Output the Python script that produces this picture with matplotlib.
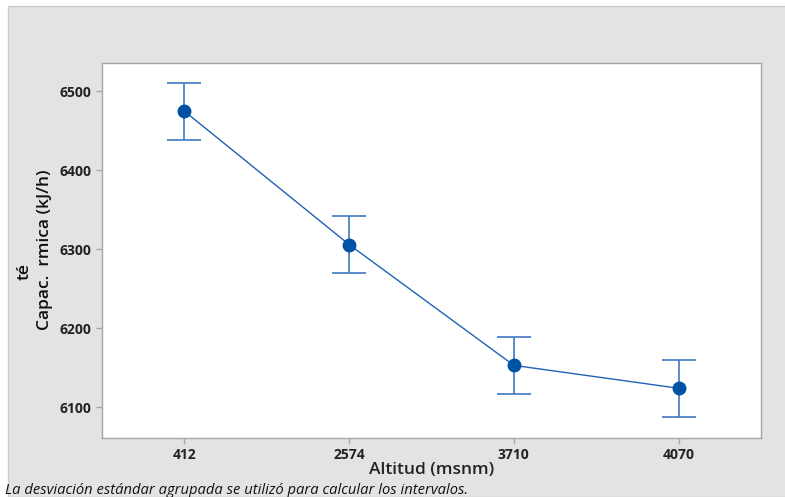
import matplotlib
matplotlib.use("Agg")
import matplotlib.pyplot as plt
from matplotlib.patches import Rectangle

# Altitude groups and mean thermal capacity with interval half-widths
altitudes = ["412", "2574", "3710", "4070"]
capacidad = [6475, 6306, 6153, 6124]
intervalo = [36, 36, 36, 36]
y_ticks = [6100, 6200, 6300, 6400, 6500]

plt.rcParams["font.family"] = ["Open Sans", "DejaVu Sans"]

fig = plt.figure(figsize=(7.85, 4.97), dpi=100)
fig.patch.set_facecolor("white")

# grey panel behind the plot
fig.patches.append(Rectangle((8 / 785, 0), 1, 1 - 6 / 497, transform=fig.transFigure,
                             facecolor="#e3e3e3", edgecolor="#cccccc", linewidth=1.0,
                             zorder=-10))

ax = fig.add_axes([102 / 785, 1 - 438 / 497, 659 / 785, 375 / 497])
ax.set_facecolor("white")

x = list(range(len(altitudes)))
ax.plot(x, capacidad, color="#1f62b5", linewidth=1.0, zorder=2)
ax.errorbar(x, capacidad, yerr=intervalo, fmt="none", ecolor="#3f78c2",
            elinewidth=1.2, capsize=12, capthick=1.2, zorder=3)
ax.plot(x, capacidad, "o", color="#0053a4", markersize=9, zorder=4)

ax.set_xlim(-0.5, 3.5)
ax.set_ylim(6061, 6536)
ax.set_xticks(x)
ax.set_xticklabels(altitudes)
ax.set_yticks(y_ticks)
ax.set_yticklabels([str(v) for v in y_ticks])

for s in ax.spines.values():
    s.set_color("#a6a6a6")
    s.set_linewidth(1.0)

ax.tick_params(axis="both", color="#a6a6a6", length=4, width=1.0,
               labelsize=10, labelcolor="#222222")
ax.tick_params(axis="x", pad=3)
for lbl in ax.get_xticklabels() + ax.get_yticklabels():
    lbl.set_fontweight("bold")

ax.set_xlabel("Altitud (msnm)", fontsize=12.5, fontweight="semibold",
              color="#222222", labelpad=0)

# y-axis title
fig.text(45 / 785, 1 - 250 / 497, "Capac.  rmica (kJ/h)", rotation=90,
         fontsize=12.5, fontweight="semibold", color="#111111",
         ha="center", va="center")
fig.text(25 / 785, 1 - 272 / 497, "té", rotation=90,
         fontsize=12.5, fontweight="semibold", color="#111111",
         ha="center", va="center")

fig.text(5 / 785, 1 - 490 / 497,
         "La desviación estándar agrupada se utilizó para calcular los intervalos.",
         fontsize=10.6, style="italic", color="#111111", ha="left", va="center")

fig.savefig("out.png", dpi=100, facecolor=fig.get_facecolor())
